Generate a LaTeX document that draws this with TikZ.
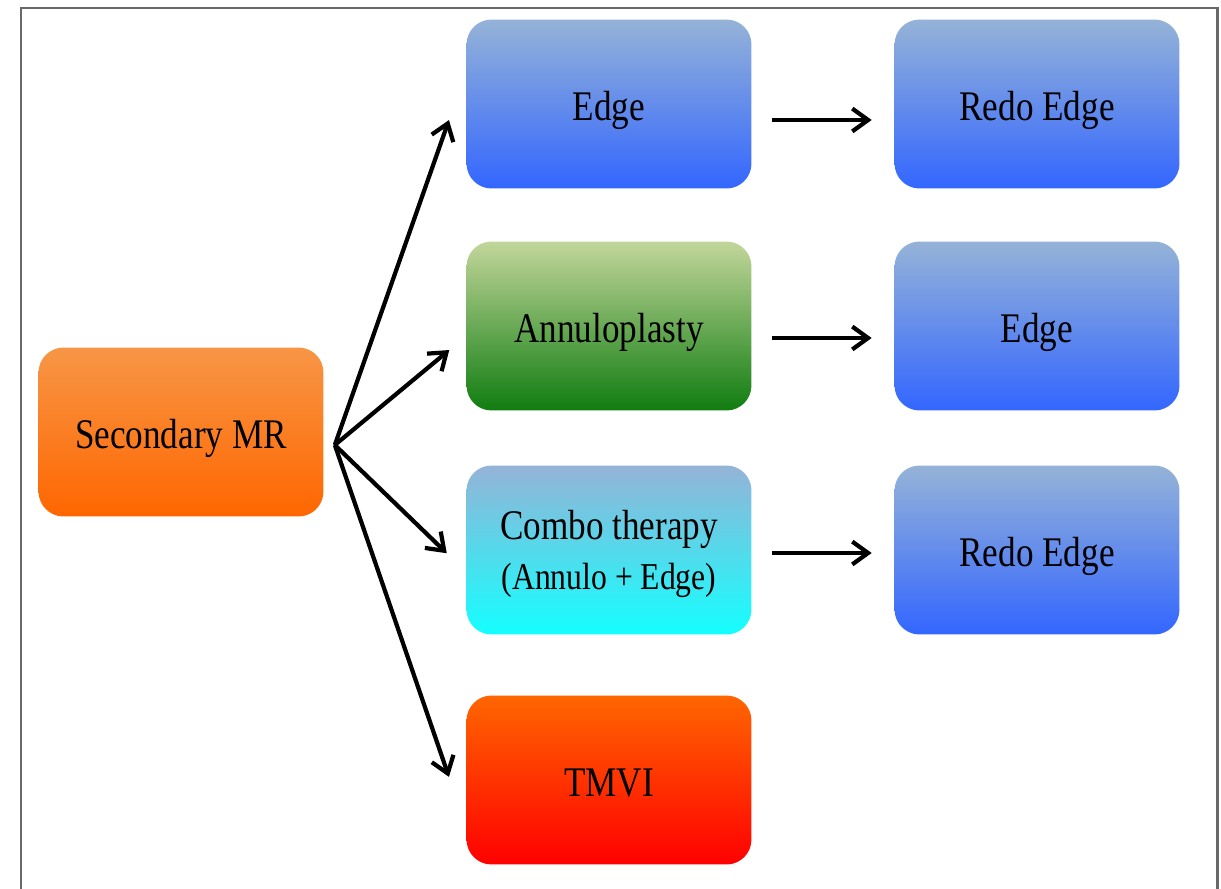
\documentclass[tikz,border=0pt]{standalone}
\usepackage{graphicx}
\usepackage{fontspec}
\setmainfont{Liberation Serif}
\usetikzlibrary{arrows.meta}

\definecolor{orangetop}{RGB}{247,150,70}
\definecolor{orangebot}{RGB}{255,102,0}
\definecolor{bluetop}{RGB}{149,179,215}
\definecolor{bluebot}{RGB}{51,102,255}
\definecolor{greentop}{RGB}{195,214,155}
\definecolor{greenbot}{RGB}{16,125,16}
\definecolor{cyanbot}{RGB}{20,255,255}
\definecolor{redbot}{RGB}{255,0,0}
\definecolor{framegray}{RGB}{105,105,105}

\newcommand{\stretchtext}[1]{\scalebox{1}[1.2]{#1}}

\tikzset{
  boxbase/.style={rounded corners=0.5cm, minimum width=5.7cm, minimum height=3.38cm,
    inner sep=0pt, align=center, font=\fontsize{20}{28.5}\selectfont},
  box/.style={boxbase, text height=19pt, text depth=0pt},
  bluebox/.style={box, top color=bluetop, bottom color=bluebot},
  arr/.style={line width=2.4pt, -{Straight Barb[length=9pt,width=13pt]}}
}

\begin{document}
\begin{tikzpicture}[x=0.02cm, y=-0.02cm]
	\useasboundingbox (0,0) rectangle (1221,889);
	%frame
	\draw[framegray, line width=1.7pt] (21,889) -- (21,8) -- (1217,8) -- (1217,889);
	%first column
	\node[box, top color=orangetop, bottom color=orangebot] (secmr) at (181,432) {\stretchtext{Secondary MR}};
	%second column
	\node[bluebox] (edge) at (609,104) {\stretchtext{Edge}};
	\node[box, top color=greentop, bottom color=greenbot] (annulo) at (609,326) {\stretchtext{Annuloplasty}};
	\node[boxbase, top color=bluetop, bottom color=cyanbot] (combo) at (609,550)
		{\rule{0pt}{21pt}\stretchtext{Combo therapy}\\{\fontsize{18}{20}\selectfont\stretchtext{(Annulo + Edge)}}};
	\node[box, top color=orangebot, bottom color=redbot] (tmvi) at (609,780) {\stretchtext{TMVI}};
	%third column
	\node[bluebox] (redo1) at (1037,104) {\stretchtext{Redo Edge}};
	\node[bluebox] (edge2) at (1037,326) {\stretchtext{Edge}};
	\node[bluebox] (redo2) at (1037,550) {\stretchtext{Redo Edge}};
	%arrows
	\coordinate (fan) at ([xshift=0.22cm,yshift=-0.26cm]secmr.east);
	\draw[arr, shorten >=1.04cm] (fan) -- ([yshift=0.66cm]edge.west);
	\draw[arr, shorten >=0.44cm] (fan) -- ([yshift=-0.2cm]annulo.west);
	\draw[arr, shorten >=0.54cm] (fan) -- ([yshift=-0.44cm]combo.west);
	\draw[arr, shorten >=1.06cm] (fan) -- ([yshift=-0.94cm]tmvi.west);
	\draw[arr, shorten <=0.4cm, shorten >=0.45cm] ([yshift=-0.32cm]edge.east) -- ([yshift=-0.32cm]redo1.west);
	\draw[arr, shorten <=0.4cm, shorten >=0.45cm] ([yshift=-0.24cm]annulo.east) -- ([yshift=-0.24cm]edge2.west);
	\draw[arr, shorten <=0.4cm, shorten >=0.45cm] ([yshift=-0.06cm]combo.east) -- ([yshift=-0.06cm]redo2.west);
\end{tikzpicture}
\end{document}
